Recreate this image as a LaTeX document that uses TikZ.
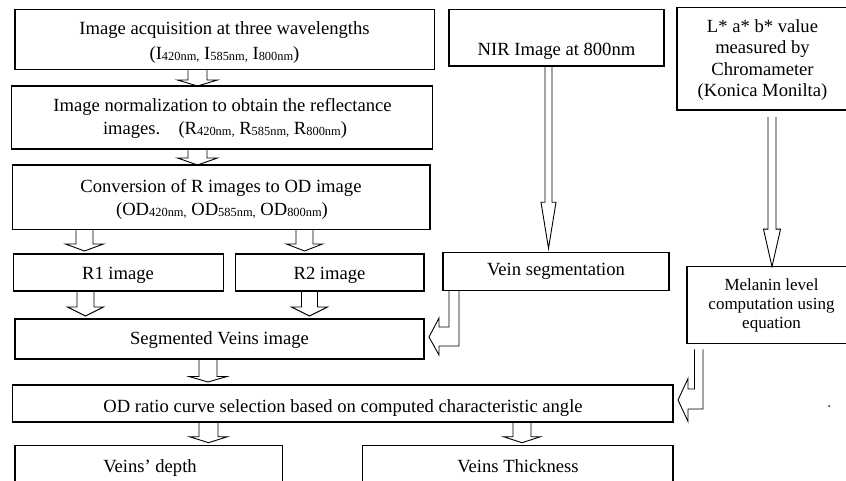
\documentclass[tikz,border=0pt]{standalone}
\usepackage{fontspec}
\setmainfont{Liberation Serif}
\usetikzlibrary{calc}
\pgfdeclarelayer{bg}
\pgfsetlayers{bg,main}
\newcommand\sbs[1]{\raisebox{-1.3pt}{\fontsize{12.4}{14}\selectfont #1}}
\newcommand\mkbox[5]{\node[box, minimum width={#4-#2}, minimum height={#5-#3}] (#1) at ({(#2+#4)/2},{(#3+#5)/2}) {};}
% #1 src, #2 tgt, #3 x, #4 half shaft, #5 half head, #6 head length, #7 top gap, #8 tip gap
\newcommand\blkdown[8]{%
 \draw[blk] ($(#3-#4,0 |- #1.south)+(0,#7)$) -- ($(#3-#4,0 |- #2.north)+(0,-#8-#6)$)
   -- ($(#3-#5,0 |- #2.north)+(0,-#8-#6)$) -- ($(#3,0 |- #2.north)+(0,-#8)$)
   -- ($(#3+#5,0 |- #2.north)+(0,-#8-#6)$) -- ($(#3+#4,0 |- #2.north)+(0,-#8-#6)$)
   -- ($(#3+#4,0 |- #1.south)+(0,#7)$);}
\begin{document}
\begin{tikzpicture}[x=1pt,y=-1pt,
  box/.style={draw=black, line width=1.1pt, inner sep=0pt, outer sep=0pt},
  blk/.style={draw=black, line width=0.9pt, fill=white, line join=miter},
  txt/.style={inner sep=0pt, outer sep=0pt, anchor=base, font=\fontsize{18.6}{22}\selectfont},
  stxt/.style={inner sep=0pt, outer sep=0pt, anchor=base, font=\fontsize{17}{20}\selectfont}]
\useasboundingbox (0,0) rectangle (846,481);
\clip (0,0) rectangle (846,481);
% boxes
\mkbox{b1}{15}{9.3}{434.5}{69.3}
\mkbox{b2}{11.7}{86}{432.7}{149}
\mkbox{b3}{12.3}{165}{430}{229.3}
\mkbox{nir}{449}{9.3}{664}{66}
\mkbox{lab}{677}{7.3}{849}{110}
\mkbox{vs}{443}{252.3}{669}{290.7}
\mkbox{mel}{687}{266.7}{857}{343.3}
\mkbox{r1}{13.3}{254}{223.3}{291}
\mkbox{r2}{235.3}{254}{424}{291}
\mkbox{seg}{15}{319}{424}{359}
\mkbox{od}{12.7}{385}{673}{422}
\mkbox{dep}{15}{445.7}{282.7}{490}
\mkbox{thk}{362.7}{445.7}{673}{490}
% texts
\node[txt] (b1a) at (224.5,34.3) {Image acquisition at three wavelengths};
\node[txt] (b1b) at (224.5,59.3) {(I\sbs{420nm,} I\sbs{585nm,} I\sbs{800nm})};
\node[txt] (b2a) at (222.5,112) {Image normalization to obtain the reflectance};
\node[txt] (b2b) at (225,134.3) {images.\hspace{12pt} (R\sbs{420nm,} R\sbs{585nm,} R\sbs{800nm})};
\node[txt] (b3a) at (221,192.7) {Conversion of R images to OD image};
\node[txt] (b3b) at (222,215) {(OD\sbs{420nm,} OD\sbs{585nm,} OD\sbs{800nm})};
\node[txt] (nirt) at (556.5,56) {NIR Image at 800nm};
\node[txt] (laba) at (762.5,32.7) {L* a* b* value};
\node[txt] (labb) at (762.5,54) {measured by};
\node[txt] (labc) at (762.5,75.7) {Chromameter};
\node[txt] (labd) at (762.5,96.7) {(Konica Monilta)};
\node[txt] (vst) at (556,276) {Vein segmentation};
\node[stxt] (mela) at (771.5,290) {Melanin level};
\node[stxt] (melb) at (771.5,309) {computation using};
\node[stxt] (melc) at (771.5,328.5) {equation};
\node[txt] (r1t) at (118,279) {R1 image};
\node[txt] (r2t) at (329.5,279) {R2 image};
\node[txt] (segt) at (219.5,344) {Segmented Veins image};
\node[txt] (odt) at (343,412) {OD ratio curve selection based on computed characteristic angle};
\node[txt] (dept) at (150,472) {Veins’ depth};
\node[txt] (thkt) at (518,472) {Veins Thickness};
\node[circle, fill=blue!80!black, inner sep=0pt, minimum size=2pt] (dot) at (829,406) {};
% block arrows
\begin{pgfonlayer}{bg}
\blkdown{b1}{b2}{197.5}{9.5}{20}{6}{0}{0}
\blkdown{b2}{b3}{197.5}{9.5}{20}{7}{0}{0}
\blkdown{b3}{r1}{84.5}{8.5}{19}{7}{0}{3}
\blkdown{b3}{r2}{304.5}{8.5}{18}{7}{0}{3}
\blkdown{r1}{seg}{85.5}{8.5}{18}{9}{0}{3}
\blkdown{r2}{seg}{309.5}{8}{18}{9}{0}{3}
\blkdown{seg}{od}{208}{9}{19}{5.5}{0}{3}
\blkdown{od}{dep}{208.5}{9.5}{19}{6}{0}{3}
\blkdown{od}{thk}{522}{9}{18.5}{6}{0}{3}
\blkdown{nir}{vs}{548.5}{3.5}{7.5}{46}{0}{4}
\blkdown{lab}{mel}{772}{4}{8.5}{37.5}{7}{0}
% bent arrows
\draw[blk] (449,0 |- vs.south) -- (449,327) -- (439,327) -- (439,318)
  -- ($(seg.east)+(5,-2)$) -- (439,355) -- (439,346) -- (459,346) -- (459,0 |- vs.south);
\draw[blk] ($(694.5,0 |- mel.south)+(0,6)$) -- (694.5,389) -- (688,389) -- (688,378.5)
  -- ($(od.east)+(5,-3.5)$) -- (688,421.5) -- (688,409) -- (703,409) -- ($(703,0 |- mel.south)+(0,6)$);
\end{pgfonlayer}
\end{tikzpicture}
\end{document}
